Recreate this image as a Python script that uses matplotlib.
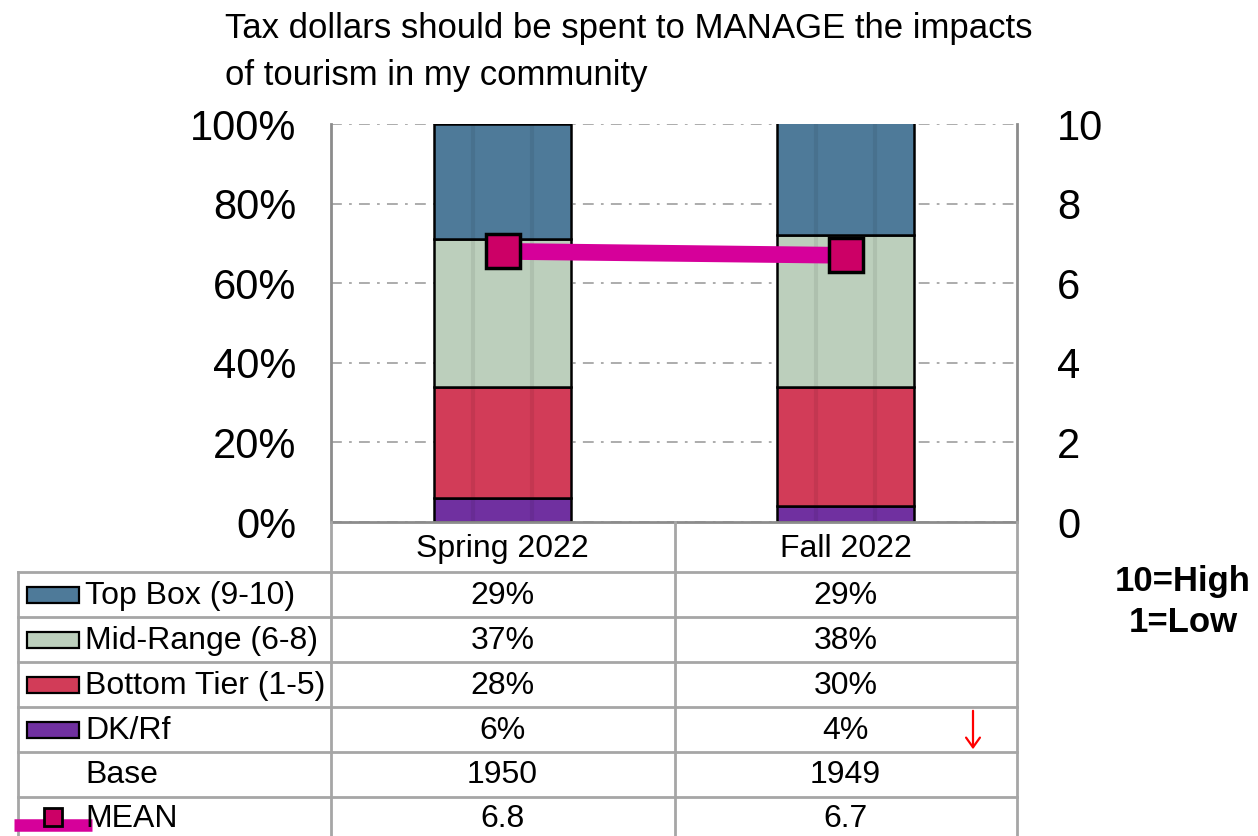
import matplotlib
matplotlib.use("Agg")
import matplotlib.pyplot as plt
from matplotlib.patches import Rectangle
from matplotlib.transforms import blended_transform_factory
from matplotlib.ticker import PercentFormatter
import numpy as np

plt.rcParams["font.family"] = ["Liberation Sans", "DejaVu Sans"]

periods = ["Spring 2022", "Fall 2022"]
top_box = [29, 29]
mid_range = [37, 38]
bottom_tier = [28, 30]
dk_rf = [6, 4]
base = [1950, 1949]
mean = [6.8, 6.7]

series = [
    ("DK/Rf", dk_rf, "#7030A0"),
    ("Bottom Tier (1-5)", bottom_tier, "#D23C58"),
    ("Mid-Range (6-8)", mid_range, "#BCCFBC"),
    ("Top Box (9-10)", top_box, "#4E7A99"),
]
LINE_C = "#D6009A"
MARK_C = "#CC0066"
GRID_C = "#A6A6A6"

W, H = 1258, 836
fig = plt.figure(figsize=(W / 100, H / 100), dpi=100)
ax = fig.add_axes([331 / W, (H - 522) / H, (1017 - 331) / W, (522 - 124) / H])

x = np.arange(len(periods))
bw = 0.4
bottom = np.zeros(len(periods))
for name, vals, col in series:
    ax.bar(x, vals, bw, bottom=bottom, color=col, edgecolor="black", linewidth=1.8, zorder=2)
    bottom += np.array(vals)
# soft vertical shading bands inside each bar
tops = np.minimum(bottom, 100)
for xi, t in zip(x, tops):
    for off in (-0.085, 0.085):
        ax.vlines(xi + off, 0, t, color="black", alpha=0.07, linewidth=3, zorder=2.5)

ax.set_xlim(-0.5, 1.5)
ax.set_ylim(0, 100)
ax.set_yticks(np.arange(0, 101, 20))
ax.yaxis.set_major_formatter(PercentFormatter(decimals=0))
ax.set_xticks([])
ax.tick_params(axis="y", length=0, pad=25, labelsize=30)
ax.set_axisbelow(True)
ax.grid(axis="y", color=GRID_C, linewidth=1.3, linestyle=(0, (6, 4, 1.5, 4)))
ax.spines["top"].set_visible(False)
for s in ("left", "right", "bottom"):
    ax.spines[s].set_color("#8C8C8C")
    ax.spines[s].set_linewidth(2)

ax2 = ax.twinx()
ax2.set_ylim(0, 10)
ax2.set_yticks(np.arange(0, 11, 2))
ax2.tick_params(axis="y", length=0, pad=29, labelsize=30)
for s in ax2.spines.values():
    s.set_visible(False)
ax2.plot(x, mean, color=LINE_C, linewidth=12, solid_capstyle="butt", zorder=3)
ax2.plot(x, mean, linestyle="none", marker="s", markersize=24,
         markerfacecolor=MARK_C, markeredgecolor="black", markeredgewidth=2.5, zorder=4)

fig.text(225 / W, 1 - 12 / H,
         "Tax dollars should be spent to MANAGE the impacts\nof tourism in my community",
         fontsize=25, ha="left", va="top", linespacing=1.55)

# data table under the chart, in pixel coordinates
tab = fig.add_axes([0, 0, 1, 1], facecolor="none")
tab.set_xlim(0, W)
tab.set_ylim(H, 0)
tab.axis("off")
tx = blended_transform_factory(ax.transData, tab.transData)

row_edges = [572, 617, 662, 707, 752, 797]
for y in row_edges:
    tab.plot([18, 1017], [y, y], color=GRID_C, linewidth=2)
tab.plot([18, 18], [572, H], color=GRID_C, linewidth=2)
tab.plot([331, 331], [522, H], color=GRID_C, linewidth=2)
tab.plot([675, 675], [522, H], color=GRID_C, linewidth=2)
tab.plot([1017, 1017], [522, H], color=GRID_C, linewidth=2)

for xi, p in zip(x, periods):
    tab.text(xi, 549, p, transform=tx, fontsize=23, ha="center", va="center")

rows = [
    ("Top Box (9-10)", [f"{v}%" for v in top_box], "#4E7A99"),
    ("Mid-Range (6-8)", [f"{v}%" for v in mid_range], "#BCCFBC"),
    ("Bottom Tier (1-5)", [f"{v}%" for v in bottom_tier], "#D23C58"),
    ("DK/Rf", [f"{v}%" for v in dk_rf], "#7030A0"),
    ("Base", [str(v) for v in base], None),
    ("MEAN", [f"{v:.1f}" for v in mean], None),
]
row_y = [596, 641, 686, 731, 775, 819]
for (label, vals, col), y in zip(rows, row_y):
    tab.text(85, y, label, fontsize=23, ha="left", va="center")
    for xi, v in zip(x, vals):
        tab.text(xi, y, v, transform=tx, fontsize=23, ha="center", va="center")
    if col is not None:
        tab.add_patch(Rectangle((27, y - 9), 52, 16, facecolor=col,
                                edgecolor="black", linewidth=1.6))

# MEAN key
tab.plot([14, 92], [825, 825], color=LINE_C, linewidth=9, solid_capstyle="butt")
tab.plot([53], [817], marker="s", markersize=13, markerfacecolor=MARK_C,
         markeredgecolor="black", markeredgewidth=2)

# significant decline marker
tab.annotate("", xy=(973, 752), xytext=(973, 708),
             arrowprops=dict(arrowstyle="->,head_width=0.5,head_length=0.7",
                             color="red", linewidth=1.6))

fig.text(1183 / W, 1 - 602 / H, "10=High\n1=Low", fontsize=25, fontweight="bold",
         ha="center", va="center", linespacing=1.3)

fig.savefig("out.png", dpi=100)
